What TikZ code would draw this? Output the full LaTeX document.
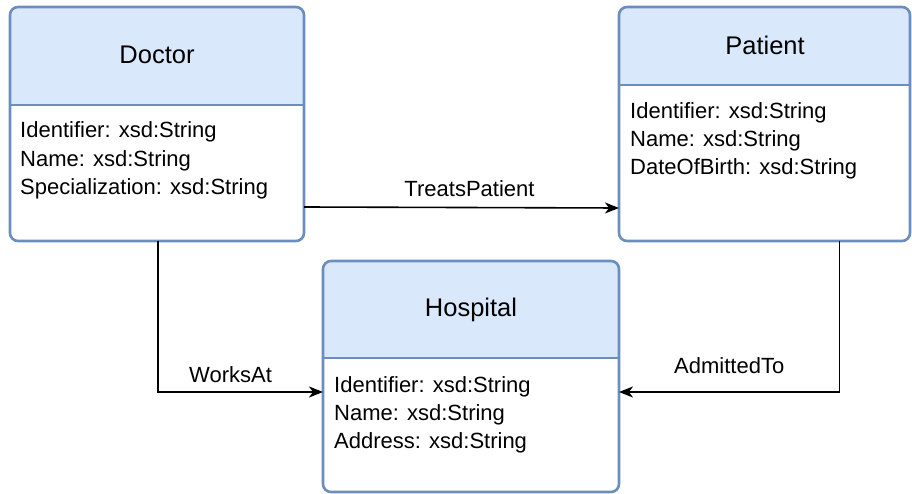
\documentclass[tikz,border=0pt]{standalone}
\usepackage{fontspec}
\setmainfont{Liberation Sans}
\usetikzlibrary{arrows.meta,calc}
\definecolor{bord}{HTML}{6C8EBF}
\definecolor{hdr}{HTML}{DAE8FC}
\tikzset{
  classbox/.style={draw=bord, line width=2.6pt, rounded corners=8pt, inner sep=0pt, outer sep=0pt, anchor=north west},
  divider/.style={draw=bord, line width=2.6pt},
  titletext/.style={font=\fontsize{25.5}{30}\selectfont, inner sep=0pt},
  attrtext/.style={font=\fontsize{22}{26}\selectfont, inner sep=0pt, anchor=base west},
  lbltext/.style={font=\fontsize{22}{26}\selectfont, inner sep=0pt},
  conn/.style={draw=black, line width=1.6pt, -{Stealth[length=14pt,width=11pt,inset=4pt]}}
}
\begin{document}
\begin{tikzpicture}[x=1pt,y=-1pt]
\useasboundingbox (0,0) rectangle (912,494);
% Doctor
\fill[white, rounded corners=8pt] (10,7) rectangle (304,241);
\begin{scope}
\clip[rounded corners=8pt] (10,7) rectangle (304,241);
\fill[hdr] (10,7) rectangle (304,105);
\end{scope}
\draw[divider] (10,105) -- (304,105);
\node[classbox, minimum width=294pt, minimum height=234pt] (doctor) at (10,7) {};
\node[titletext] (doctorT) at (157,55) {Doctor};
\node[attrtext] (doctorA1) at (20,138) {Identifier: xsd:String};
\node[attrtext] (doctorA2) at (20,166.5) {Name: xsd:String};
\node[attrtext] (doctorA3) at (20,195) {Specialization: xsd:String};
% Patient
\fill[white, rounded corners=8pt] (619,7) rectangle (910,241);
\begin{scope}
\clip[rounded corners=8pt] (619,7) rectangle (910,241);
\fill[hdr] (619,7) rectangle (910,85);
\end{scope}
\draw[divider] (619,85) -- (910,85);
\node[classbox, minimum width=291pt, minimum height=234pt] (patient) at (619,7) {};
\node[titletext] (patientT) at (765,45) {Patient};
\node[attrtext] (patientA1) at (630,119) {Identifier: xsd:String};
\node[attrtext] (patientA2) at (630,147) {Name: xsd:String};
\node[attrtext] (patientA3) at (630,175) {DateOfBirth: xsd:String};
% Hospital
\fill[white, rounded corners=8pt] (323,261) rectangle (619,492);
\begin{scope}
\clip[rounded corners=8pt] (323,261) rectangle (619,492);
\fill[hdr] (323,261) rectangle (619,358);
\end{scope}
\draw[divider] (323,358) -- (619,358);
\node[classbox, minimum width=296pt, minimum height=231pt] (hospital) at (323,261) {};
\node[titletext] (hospitalT) at (471,310) {Hospital};
\node[attrtext] (hospitalA1) at (334,392) {Identifier: xsd:String};
\node[attrtext] (hospitalA2) at (334,420) {Name: xsd:String};
\node[attrtext] (hospitalA3) at (334,448) {Address: xsd:String};
% Connectors
\draw[conn] ([yshift=34pt]doctor.south east) -- ([yshift=33pt]patient.south west)
  node[lbltext, midway, above=10pt, xshift=8pt] (lblTreats) {TreatsPatient};
\draw[conn] ([xshift=1pt]doctor.south) |- ([yshift=-15.5pt]hospital.west)
  node[lbltext, pos=0.72, above=8pt] (lblWorks) {WorksAt};
\draw[conn] ([xshift=75pt]patient.south) |- ([yshift=-15.5pt]hospital.east)
  node[lbltext, pos=0.75, above=17pt] (lblAdm) {AdmittedTo};
\end{tikzpicture}
\end{document}
